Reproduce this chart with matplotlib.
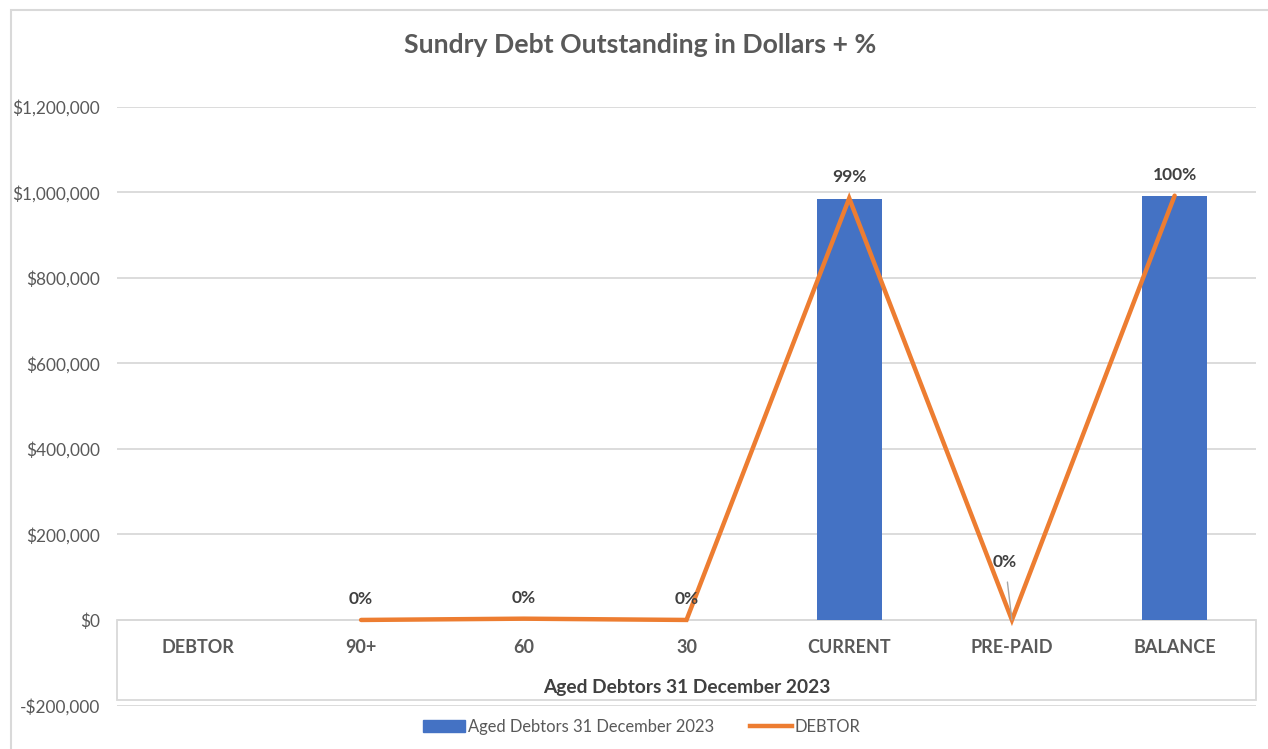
import numpy as np
import matplotlib
matplotlib.use("Agg")
import matplotlib.pyplot as plt
from matplotlib.patches import Rectangle
from matplotlib.lines import Line2D
from matplotlib.ticker import FuncFormatter

categories = ["DEBTOR", "90+", "60", "30", "CURRENT", "PRE-PAID", "BALANCE"]
bar_values = [np.nan, 0, 0, 0, 984000, 0, 992000]
line_values = [np.nan, 0, 3000, 0, 986000, 0, 992000]
pct_labels = [None, "0%", "0%", "0%", "99%", "0%", "100%"]
yticks = [-200000, 0, 200000, 400000, 600000, 800000, 1000000, 1200000]
bar_label = "Aged Debtors 31 December 2023"
line_label = "DEBTOR"
title = "Sundry Debt Outstanding in Dollars + %"
xtitle = "Aged Debtors 31 December 2023"

plt.rcParams['font.family'] = ['Lato', 'DejaVu Sans']

W, H = 1268, 749
fig = plt.figure(figsize=(W / 100, H / 100), dpi=100)

# outer chart border
fig.patches.append(Rectangle((11 / W, -0.1), 1.2, 1 - 10 / H + 0.1, transform=fig.transFigure,
                             fill=False, edgecolor="#d9d9d9", linewidth=1.5))

ax_left, ax_right = 117 / W, 1256 / W
ax_top_px, ax_bot_px = 106.7, 705.5
ax = fig.add_axes([ax_left, 1 - ax_bot_px / H, ax_right - ax_left, (ax_bot_px - ax_top_px) / H])
ax.set_facecolor("none")

x = np.arange(len(categories))
ax.set_xlim(-0.5, len(categories) - 0.5)
ax.set_ylim(yticks[0], yticks[-1])

grid_c = "#d9d9d9"
for t in yticks:
    ax.axhline(t, color=grid_c, linewidth=1.3, zorder=0)

ax.bar(x, bar_values, width=0.4, color="#4472C4", zorder=2, label=bar_label)
ax.plot(x, line_values, color="#ED7D31", linewidth=3.2, solid_capstyle="round",
        solid_joinstyle="miter", zorder=3, label=line_label)

for s in ax.spines.values():
    s.set_visible(False)
ax.set_xticks([])
ax.set_yticks(yticks)
ax.yaxis.set_major_formatter(FuncFormatter(lambda v, p: ("-$" if v < 0 else "$") + f"{abs(int(v)):,}"))
ax.tick_params(axis="y", length=0, pad=12, labelsize=12.4, labelcolor="#595959")

# category-axis box
box_bottom = -187000
ax.add_patch(Rectangle((-0.5, box_bottom), len(categories), -box_bottom, fill=False,
                       edgecolor=grid_c, linewidth=1.3, zorder=1, clip_on=False))
for i, c in enumerate(categories):
    ax.text(i, -65000, c, ha="center", va="center", fontsize=13, fontweight="bold", color="#595959")
ax.text((len(categories) - 1) / 2, -157000, xtitle, ha="center", va="center",
        fontsize=13.8, fontweight="bold", color="#404040")

# data labels
for i, (v, lab) in enumerate(zip(line_values, pct_labels)):
    if lab is None:
        continue
    if categories[i] == "PRE-PAID":
        ax.annotate(lab, xy=(i, v), xytext=(-5, 42), textcoords="offset points",
                    ha="center", va="center", fontsize=12.5, fontweight="bold", color="#404040",
                    arrowprops=dict(arrowstyle="-", color="#a6a6a6", lw=1, shrinkA=7, shrinkB=0))
    else:
        ax.annotate(lab, xy=(i, v), xytext=(0, 15), textcoords="offset points",
                    ha="center", va="center", fontsize=12.5, fontweight="bold", color="#404040")

fig.text(640 / W, 1 - 45 / H, title, ha="center", va="center", fontsize=19.2,
         fontweight="bold", color="#595959")

handles = [Rectangle((0, 0), 1, 1, color="#4472C4"),
           Line2D([0], [0], color="#ED7D31", linewidth=3.2)]
fig.legend(handles, [bar_label, line_label], loc="center", bbox_to_anchor=(642 / W, 1 - 727 / H),
           ncol=2, frameon=False, fontsize=11.9, labelcolor="#595959", handlelength=2.5,
           handletextpad=0.2, columnspacing=2.2)

fig.savefig("out.png", dpi=100)
